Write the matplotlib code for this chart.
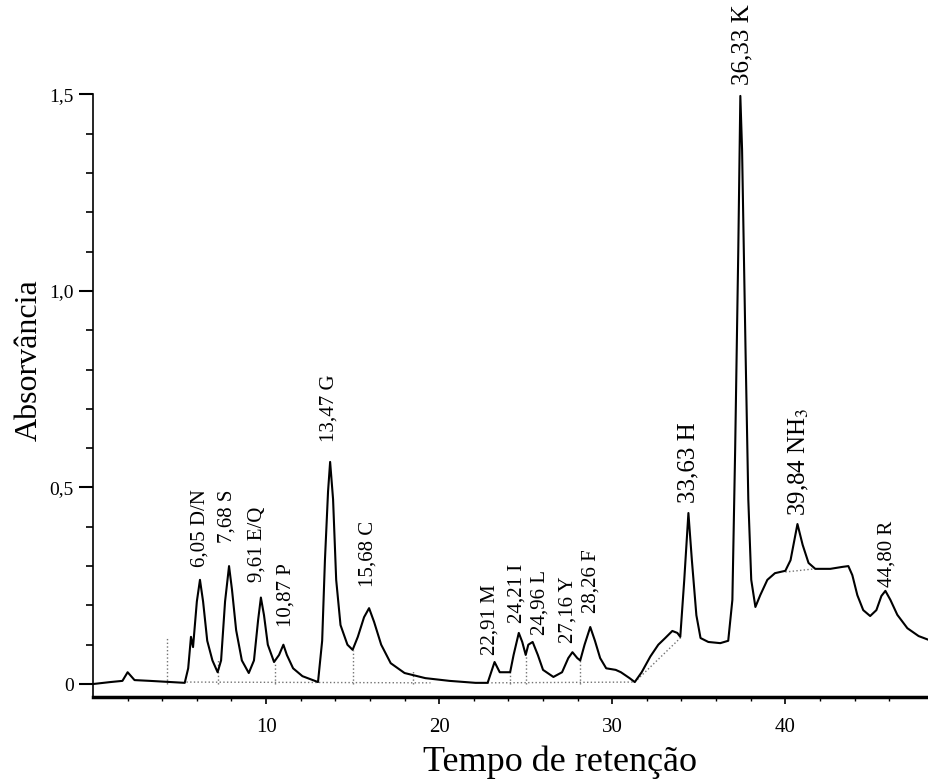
import matplotlib.pyplot as plt

plt.rcParams['font.family'] = ['Liberation Serif', 'DejaVu Serif']
plt.rcParams['mathtext.fontset'] = 'stix'

# chromatogram trace (tempo, absorvancia)
tempo = [0.0, 1.0, 1.7, 2.0, 2.4, 3.3, 4.45, 5.3, 5.5, 5.66, 5.78, 6.0, 6.18, 6.36,
         6.6, 6.9, 7.2, 7.4, 7.63, 7.86, 8.03, 8.27, 8.6, 9.0, 9.3, 9.54, 9.7, 9.88,
         10.1, 10.46, 10.75, 11.0, 11.2, 11.56, 12.1, 13.0, 13.24, 13.4, 13.58, 13.7,
         13.87, 14.05, 14.3, 14.7, 15.0, 15.3, 15.66, 15.95, 16.24, 16.65, 17.2, 18.0,
         19.2, 20.6, 22.1, 22.8, 22.95, 23.2, 23.5, 24.1, 24.3, 24.6, 24.8, 25.0,
         25.15, 25.4, 25.7, 26.0, 26.6, 27.1, 27.46, 27.7, 27.98, 28.15, 28.4, 28.73,
         29.0, 29.3, 29.65, 30.2, 30.5, 31.0, 31.3, 31.7, 32.2, 32.66, 33.06, 33.47,
         33.76, 33.93, 34.16, 34.4, 34.6, 34.86, 35.1, 35.55, 36.24, 36.7, 36.94, 37.1,
         37.28, 37.4, 37.5, 37.7, 37.86, 38.03, 38.27, 38.55, 38.96, 39.4, 40.0, 40.3,
         40.7, 41.0, 41.34, 41.73, 42.6, 43.3, 43.64, 43.87, 44.16, 44.5, 44.9, 45.26,
         45.55, 45.78, 46.07, 46.47, 47.05, 47.7, 48.3]
absorv = [0.0, 0.005, 0.008, 0.03, 0.01, 0.008, 0.005, 0.003, 0.04, 0.12, 0.094, 0.21,
          0.265, 0.21, 0.11, 0.06, 0.03, 0.06, 0.21, 0.30, 0.24, 0.137, 0.06, 0.028,
          0.06, 0.163, 0.22, 0.175, 0.10, 0.056, 0.074, 0.10, 0.074, 0.04, 0.02, 0.005,
          0.11, 0.315, 0.49, 0.565, 0.47, 0.265, 0.15, 0.10, 0.087, 0.12, 0.17, 0.193,
          0.158, 0.10, 0.053, 0.028, 0.015, 0.008, 0.003, 0.003, 0.023, 0.056, 0.03,
          0.03, 0.074, 0.13, 0.107, 0.074, 0.10, 0.107, 0.074, 0.036, 0.018, 0.03,
          0.066, 0.081, 0.066, 0.06, 0.10, 0.145, 0.11, 0.066, 0.04, 0.036, 0.03, 0.015,
          0.005, 0.03, 0.07, 0.10, 0.117, 0.135, 0.13, 0.12, 0.265, 0.435, 0.315, 0.175,
          0.117, 0.107, 0.104, 0.11, 0.214, 0.595, 1.10, 1.496, 1.36, 0.85, 0.47, 0.265,
          0.196, 0.226, 0.265, 0.282, 0.288, 0.315, 0.407, 0.354, 0.308, 0.293, 0.293,
          0.298, 0.30, 0.277, 0.226, 0.188, 0.173, 0.188, 0.224, 0.237, 0.214, 0.176,
          0.142, 0.122, 0.112]

# peak annotations: label, x, y of label foot
rotulos = ['6,05 D/N', '7,68 S', '9,61 E/Q', '10,87 P', '13,47 G', '15,68 C',
           '22,91 M', '24,21 I', '24,96 L', '27,16 Y', '28,26 F', '33,63 H',
           '36,33 K', '39,84 NH$_3$', '44,80 R']
rot_x = [6.18, 7.75, 9.48, 11.16, 13.64, 15.9, 22.95, 24.5, 25.84, 27.46, 28.79,
         34.4, 37.5, 40.8, 45.9]
rot_y = [0.298, 0.359, 0.26, 0.145, 0.616, 0.247, 0.074, 0.155, 0.125, 0.104, 0.18,
         0.46, 1.524, 0.427, 0.247]

# integration baseline (dotted) segments
base_x = [[5.4, 19.5], [22.8, 31.3], [31.3, 34.0], [40.0, 41.7]]
base_y = [[0.005, 0.003], [0.003, 0.005], [0.005, 0.12], [0.285, 0.293]]

# drop lines between peaks
queda_x = [4.3, 7.2, 10.5, 15.0, 18.5, 24.1, 25.0, 28.15]
queda_topo = [0.12, 0.06, 0.05, 0.087, 0.035, 0.03, 0.074, 0.06]

# these three labels are printed larger in the original
grandes = ['33,63 H', '36,33 K', '39,84 NH$_3$']

fig = plt.figure(figsize=(9.29, 7.81), dpi=100)
ax = fig.add_axes([93 / 929, 84 / 781, 836 / 929, 697 / 781])

for bx, by in zip(base_x, base_y):
    ax.plot(bx, by, ls=':', color='0.45', lw=1.0)
for qx, qt in zip(queda_x, queda_topo):
    ax.plot([qx, qx], [0.0, qt], ls=':', color='0.45', lw=1.0)

ax.plot(tempo, absorv, color='black', lw=1.5)

for s, x, y in zip(rotulos, rot_x, rot_y):
    fs = 18 if s in grandes else 15
    ax.text(x, y, s, rotation=90, ha='center', va='bottom', fontsize=fs)

ax.set_xlim(0, 48.3)
ax.set_ylim(-0.033, 1.74)

ax.spines['top'].set_visible(False)
ax.spines['right'].set_visible(False)
ax.spines['left'].set_bounds(-0.033, 1.5)
ax.spines['left'].set_linewidth(1.2)
ax.spines['bottom'].set_linewidth(2.5)

ax.set_xticks([10, 20, 30, 40])
ax.set_xticklabels(['10', '20', '30', '40'])
ax.set_xticks(range(2, 48, 2), minor=True)
ax.set_yticks([0, 0.5, 1.0, 1.5])
ax.set_yticklabels(['0', '0,5', '1,0', '1,5'])
ax.set_yticks([0.1, 0.2, 0.3, 0.4, 0.6, 0.7, 0.8, 0.9, 1.1, 1.2, 1.3, 1.4], minor=True)

ax.tick_params(axis='x', which='major', direction='out', length=5, width=1.2,
               labelsize=15, pad=10)
ax.tick_params(axis='x', which='minor', direction='out', length=3, width=1.0)
ax.tick_params(axis='y', which='major', direction='out', length=10, width=1.5,
               labelsize=14, pad=4)
ax.tick_params(axis='y', which='minor', direction='out', length=5, width=1.2)

ax.set_xlabel('Tempo de retenção', fontsize=26)
ax.xaxis.set_label_coords(0.559, -0.069)
ax.set_ylabel('Absorvância', fontsize=23)
ax.yaxis.set_label_coords(-0.059, 0.4835)

fig.savefig('out.png', dpi=100)
